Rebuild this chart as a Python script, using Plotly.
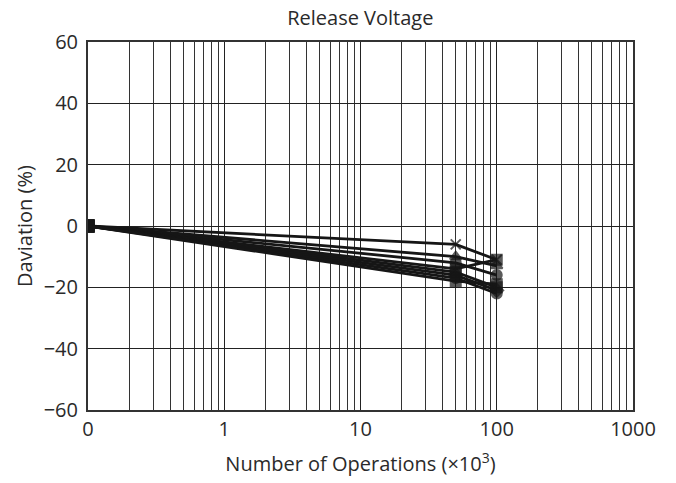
import plotly.graph_objects as go

# Number of operations (x10^3); the first point (0 operations) is plotted at 0.1 on the log axis
operations = [0.1, 50, 100]

# Release-voltage deviation (%) for each sample
series = {
    "Sample 1": [0, -6, -11],
    "Sample 2": [0, -10, -13],
    "Sample 3": [0, -12, -16],
    "Sample 4": [0, -14, -11],
    "Sample 5": [0, -15, -20],
    "Sample 6": [0, -16, -21],
    "Sample 7": [0, -17, -22],
    "Sample 8": [0, -18, -19],
}
end_symbols = ["x-thin", "triangle-up", "circle", "square", "square", "diamond", "circle", "square"]

x_tick_vals = [0.1, 1, 10, 100, 1000]
x_tick_text = ["0", "1", "10", "100", "1000"]
y_tick_vals = [-60, -40, -20, 0, 20, 40, 60]
y_tick_text = ["\u221260", "\u221240", "\u221220", "0", "20", "40", "60"]

minor_vals = [m * 10 ** e for e in range(-1, 3) for m in range(2, 10)]

fig = go.Figure()
for (name, vals), sym in zip(series.items(), end_symbols):
    fig.add_trace(go.Scatter(
        x=operations, y=vals, mode="lines+markers", name=name,
        line=dict(color="#161616", width=2.8),
        marker=dict(
            symbol=["square", sym, sym],
            size=[11, 10, 10],
            color="#161616",
            line=dict(color="#161616", width=2),
        ),
        showlegend=False,
    ))

font = "Open Sans, Noto Sans, Liberation Sans, sans-serif"
fig.update_layout(
    width=676, height=483,
    margin=dict(l=88, r=43, t=42, b=73),
    paper_bgcolor="white", plot_bgcolor="white",
    font=dict(family=font, color="#2a2a2a", size=20),
    title=dict(text="Release Voltage", x=0.533, xanchor="center", y=0.962, yanchor="middle",
               font=dict(size=20, color="#2a2a2a")),
    xaxis=dict(
        type="log", range=[-1, 3],
        tickvals=x_tick_vals, ticktext=x_tick_text,
        showgrid=True, gridcolor="#222222", gridwidth=1,
        minor=dict(tickvals=minor_vals, showgrid=True, gridcolor="#333333", gridwidth=1, ticks=""),
        showline=True, linecolor="#333333", linewidth=2, mirror=True,
        ticks="", tickfont=dict(size=20),
        title=dict(text="Number of Operations (\u00d710<sup>3</sup>)", font=dict(size=20), standoff=16),
        zeroline=False,
    ),
    yaxis=dict(
        range=[-60, 60],
        tickvals=y_tick_vals, ticktext=y_tick_text,
        showgrid=True, gridcolor="#222222", gridwidth=1,
        showline=True, linecolor="#333333", linewidth=2, mirror=True,
        ticks="", tickfont=dict(size=20), ticklabelstandoff=4,
        title=dict(text="Daviation (%)", font=dict(size=20), standoff=6),
        zeroline=False,
    ),
)

fig.write_html("out.html")
